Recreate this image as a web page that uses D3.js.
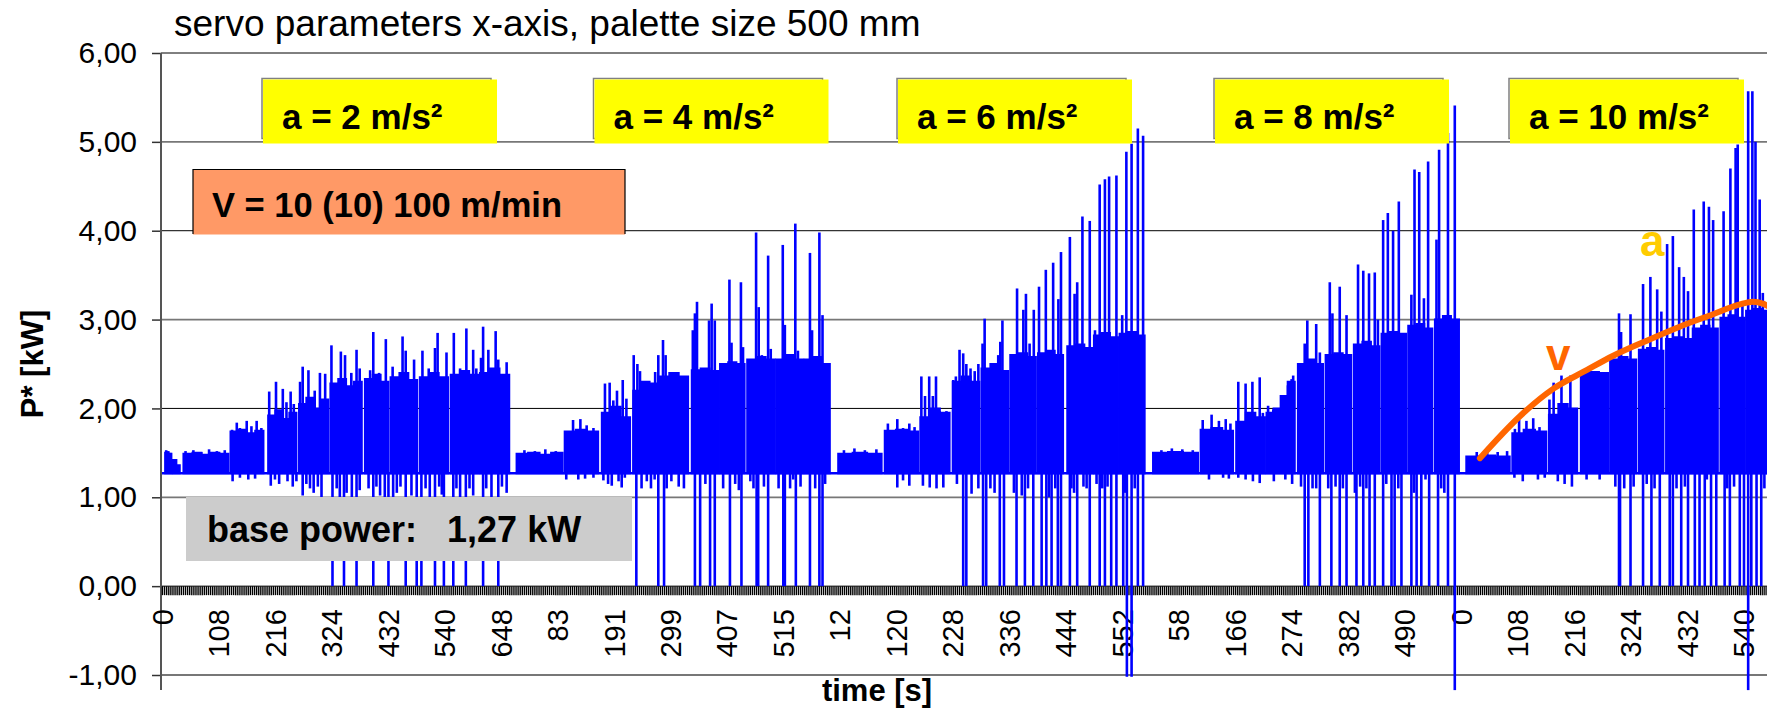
<!DOCTYPE html>
<html><head><meta charset="utf-8">
<script src="https://cdn.jsdelivr.net/npm/d3@7"></script>
<style>
body{margin:0;background:#fff}
svg{display:block;font-family:"Liberation Sans",Arial,Helvetica,sans-serif}
</style>
</head><body>
<svg id="c" width="1767" height="709"></svg>
<script>
// ---------------- DATA ----------------
const titleText = "servo parameters x-axis, palette size 500 mm";
const yTicks = [-1, 0, 1, 2, 3, 4, 5, 6];
const yTickLabels = ["-1,00", "0,00", "1,00", "2,00", "3,00", "4,00", "5,00", "6,00"];
const xTickLabels = ["0","108","216","324","432","540","648","83","191","299","407","515","12","120","228","336","444","552","58","166","274","382","490","0","108","216","324","432","540"];
const labelStep = 108;              // samples between time labels
const totalSamples = 3069;          // visible samples
const basePower = 1.27;
const segOffset = [0, 673, 1284, 1886, 2484];  // sample index where each a-run starts
const accelLabels = ["a = 2 m/s\u00B2", "a = 4 m/s\u00B2", "a = 6 m/s\u00B2", "a = 8 m/s\u00B2", "a = 10 m/s\u00B2"];

// stages per run: [start s, end s, plateau levels across the stage]
const stages1 = [[6,18,[1.5,1.49]],[21,34,[1.42,1.36]],[41,127,[1.49,1.5,1.48,1.5,1.49]],[131,194,[1.74,1.76,1.72,1.75]],[203,257,[1.92,1.98,1.88,1.95]],[262,318,[2.05,2.12,2.0,2.1]],[322,382,[2.28,2.33,2.25,2.3]],[388,433,[2.33,2.38,2.3]],[437,488,[2.35,2.4,2.32]],[493,547,[2.35,2.4,2.35]],[552,605,[2.38,2.42,2.38]],[608,664,[2.4,2.45,2.38]]];
const peaks1 = [[8,1.53],[12,1.52],[16,1.5],[45,1.52],[60,1.53],[75,1.51],[90,1.54],[105,1.52],[120,1.53],[134,1.76],[143,1.84],[149,1.78],[162,1.86],[171,1.8],[181,1.86],[190,1.78],[205,2.19],[218,2.3],[231,2.22],[238,2.07],[246,2.19],[252,2.05],[264,2.3],[269,2.47],[280,2.43],[292,2.2],[302,2.4],[312,2.39],[324,2.71],[342,2.64],[350,2.6],[362,2.4],[372,2.66],[378,2.45],[398,2.43],[404,2.86],[415,2.4],[428,2.78],[441,2.47],[460,2.81],[466,2.65],[482,2.55],[498,2.65],[510,2.45],[522,2.68],[527,2.85],[544,2.63],[558,2.85],[570,2.45],[582,2.9],[595,2.66],[601,2.45],[610,2.57],[614,2.92],[624,2.66],[638,2.87],[643,2.55],[659,2.52]];
const dips1 = [[135,1.18],[149,1.22],[165,1.2],[178,1.21],[208,1.13],[216,1.2],[224,1.15],[240,1.18],[250,1.12],[257,1.18],[269,1.02],[276,1.15],[283,1.1],[290,1.05],[298,1.12],[305,1.0],[326,0],[334,1.1],[340,1.0],[348,0],[353,1.05],[363,1.0],[372,0],[378,1.08],[395,1.1],[404,0],[410,1.12],[417,1.02],[426,1.0],[433,0],[442,1.0],[449,1.05],[456,1.12],[466,0],[477,1.02],[487,0],[496,0],[504,1.1],[512,1.0],[522,0],[530,1.12],[535,1.03],[539,0],[557,0],[563,1.1],[570,1.0],[581,0],[588,1.1],[595,1.02],[614,0],[620,1.1],[630,1.0],[643,0],[650,1.12],[659,1.05]];

const stages2 = [[5,93,[1.49,1.5,1.48,1.5]],[97,161,[1.74,1.76,1.74]],[168,222,[1.95,2.02,1.9]],[228,275,[2.2,2.3,2.28]],[279,333,[2.36,2.4,2.36]],[340,391,[2.43,2.45,2.42]],[394,441,[2.5,2.52,2.5]],[446,499,[2.55,2.58,2.55]],[502,553,[2.55,2.6,2.55]],[556,604,[2.55,2.58,2.5]]];
const peaks2 = [[20,1.53],[40,1.52],[60,1.54],[80,1.52],[113,1.87],[127,1.88],[139,1.81],[152,1.78],[174,2.28],[183,2.29],[190,2.09],[197,2.2],[208,2.32],[215,2.11],[229,2.6],[236,2.5],[241,2.42],[251,2.28],[260,2.24],[270,2.41],[276,2.6],[285,2.77],[290,2.6],[297,2.36],[308,2.36],[314,2.36],[327,2.3],[342,2.88],[346,3.07],[350,3.2],[373,2.99],[378,3.18],[384,2.99],[412,3.45],[416,2.74],[434,3.42],[438,2.69],[463,3.98],[468,3.14],[474,2.6],[486,3.72],[491,2.67],[514,3.84],[518,2.94],[538,4.08],[543,2.65],[566,3.75],[570,2.88],[584,3.98],[590,3.05],[600,2.3]];
const dips2 = [[100,1.2],[123,1.2],[136,1.21],[152,1.22],[171,1.19],[180,1.15],[187,1.13],[200,1.18],[206,1.11],[212,1.22],[234,0],[244,1.1],[254,1.18],[262,1.1],[269,1.2],[276,0],[287,0],[292,1.1],[301,1.18],[315,1.12],[325,1.1],[346,0],[356,0],[366,1.15],[375,0],[384,0],[400,1.1],[413,0],[423,1.15],[430,1.08],[435,0],[452,1.18],[458,1.1],[464,0],[467,0],[478,1.12],[486,0],[506,1.1],[515,0],[518,0],[528,1.1],[534,1.2],[539,0],[548,1.12],[566,0],[576,1.1],[584,0],[590,0],[595,1.15]];

const stages3 = [[9,92,[1.49,1.5,1.49]],[98,162,[1.75,1.76,1.74]],[166,222,[1.9,2.0,1.95]],[228,279,[2.3,2.36,2.3]],[283,334,[2.45,2.5,2.42]],[338,387,[2.6,2.62,2.58]],[391,439,[2.62,2.65,2.6]],[447,496,[2.7,2.72,2.68]],[498,544,[2.82,2.85,2.8]],[547,595,[2.84,2.86,2.82]]];
const peaks3 = [[20,1.53],[40,1.55],[60,1.53],[82,1.54],[104,1.83],[122,1.88],[133,1.78],[145,1.83],[155,1.79],[168,2.36],[175,2.14],[183,2.36],[190,2.14],[196,2.36],[203,1.97],[216,1.97],[229,2.32],[234,2.36],[241,2.66],[248,2.62],[254,2.5],[262,2.45],[270,2.42],[277,2.5],[285,2.73],[289,3.01],[315,2.6],[319,2.75],[323,2.99],[351,3.35],[363,3.11],[368,3.29],[375,2.73],[383,3.11],[393,3.37],[406,3.56],[420,3.64],[430,3.23],[435,3.76],[452,3.93],[461,3.29],[466,3.42],[476,4.16],[490,4.11],[500,2.88],[509,4.52],[519,4.58],[527,4.61],[541,4.62],[552,3.05],[560,4.89],[570,4.98],[582,5.15],[592,5.07]];
const dips3 = [[122,1.11],[133,1.19],[145,1.13],[171,1.13],[184,1.11],[197,1.1],[210,1.11],[236,1.15],[248,0],[254,0],[264,1.04],[277,1.1],[286,0],[292,0],[300,1.1],[308,1.05],[318,0],[326,0],[345,1.05],[350,0],[360,1.02],[366,0],[372,1.1],[382,0],[398,0],[407,0],[412,1.0],[417,0],[424,1.1],[429,0],[435,0],[452,0],[455,1.1],[460,1.05],[466,0],[478,1.12],[484,1.1],[490,0],[503,1.15],[509,0],[514,1.1],[519,0],[524,1.12],[531,0],[541,0],[554,0],[557,1.05],[561,-1.02],[570,-1.02],[576,1.1],[582,0],[592,0]];

const stages4 = [[9,95,[1.5,1.51,1.5]],[100,162,[1.76,1.78,1.75]],[168,223,[1.85,1.95,1.9]],[226,280,[1.95,2.0,2.14,2.3]],[286,334,[2.5,2.55,2.5]],[339,388,[2.6,2.62,2.6]],[393,442,[2.72,2.75,2.7]],[446,493,[2.84,2.86,2.84]],[497,543,[2.93,2.95,2.9]],[548,594,[3.0,3.04,3.0]]];
const peaks4 = [[25,1.53],[45,1.55],[65,1.54],[85,1.53],[104,1.87],[121,1.93],[135,1.86],[148,1.88],[157,1.83],[172,2.3],[186,2.28],[199,2.3],[213,2.35],[219,1.95],[229,2.03],[239,1.99],[255,2.03],[261,2.14],[267,2.26],[274,2.33],[277,2.37],[293,2.48],[299,2.73],[304,2.99],[321,2.95],[328,2.63],[347,3.42],[352,3.07],[366,3.37],[379,3.05],[401,3.62],[411,3.55],[422,3.52],[433,3.53],[439,3.0],[449,4.12],[458,4.2],[468,4.0],[479,4.33],[503,3.28],[509,4.69],[518,4.66],[527,3.24],[535,4.78],[551,3.9],[556,4.91],[573,5.1],[586,5.41]];
const dips4 = [[116,1.2],[143,1.22],[154,1.21],[172,1.22],[186,1.2],[200,1.18],[213,1.16],[240,1.18],[262,1.2],[275,1.15],[292,1.12],[299,0],[306,0],[314,1.1],[321,1.1],[328,0],[344,1.1],[350,0],[358,1.12],[366,0],[372,1.1],[379,0],[395,1.05],[398,0],[405,1.12],[411,0],[417,1.1],[423,0],[433,0],[449,0],[455,1.15],[465,0],[471,0],[478,1.1],[484,0],[503,0],[508,1.05],[513,0],[522,0],[530,1.2],[537,0],[554,0],[560,1.1],[566,1.05],[573,0],[586,-1.17]];

const stages5 = [[10,93,[1.46,1.47,1.46]],[98,163,[1.72,1.76,1.74]],[168,222,[1.93,2.05,2.0]],[229,281,[2.4,2.41,2.4]],[285,335,[2.55,2.58,2.55]],[340,387,[2.66,2.68,2.65]],[392,440,[2.78,2.8,2.78]],[443,491,[2.9,2.93,2.9]],[496,542,[3.02,3.05,3.02]],[545,590,[3.1,3.12,3.1]]];
const peaks5 = [[30,1.51],[50,1.53],[70,1.51],[88,1.52],[103,1.77],[111,1.87],[125,1.86],[138,1.89],[150,1.79],[169,2.1],[177,2.29],[192,2.37],[201,1.97],[209,2.37],[302,3.07],[306,2.86],[324,3.06],[348,3.4],[362,3.48],[375,3.34],[383,3.09],[394,3.85],[405,3.94],[417,3.59],[426,3.48],[434,3.32],[445,4.24],[464,4.33],[474,4.27],[482,4.12],[502,4.22],[515,4.7],[525,4.93],[529,4.97],[538,3.2],[549,5.57],[557,5.57],[563,5.0],[571,4.35],[577,3.3]];
const dips5 = [[102,1.22],[118,1.18],[147,1.2],[160,1.22],[185,1.18],[198,1.15],[212,1.12],[240,1.2],[265,1.2],[295,1.12],[302,0],[304,0],[312,1.1],[324,0],[330,1.12],[348,0],[355,1.15],[364,0],[370,1.1],[380,0],[399,0],[405,0],[412,1.1],[421,0],[428,1.12],[434,0],[447,0],[456,0],[466,0],[470,1.2],[478,0],[488,0],[504,0],[509,1.1],[514,0],[522,1.12],[533,0],[541,0],[549,-1.17],[555,0],[565,0],[574,0],[580,1.1]];

// speed curve "v" drawn over the a = 10 run: [time s in run, kW-scale value]
const vCurveT = [36, 112, 176, 240, 290, 354, 418, 482, 533, 558, 577, 590];
const vCurveV = [1.44, 1.91, 2.22, 2.43, 2.59, 2.76, 2.92, 3.06, 3.17, 3.2, 3.18, 3.14];

// ---------------- CHART ----------------
const svg = d3.select("#c");
const x = d3.scaleLinear().domain([0, totalSamples]).range([162, 1767]);
const y = d3.scaleLinear().domain([-1, 6]).range([675, 53]);
const BLUE = "#0000FF";

// title
svg.append("text").attr("x", 174).attr("y", 36).attr("font-size", 37).attr("fill", "#000").text(titleText);

// gridlines
svg.append("g").selectAll("line").data(yTicks).join("line")
  .attr("x1", 161).attr("x2", 1767)
  .attr("y1", d => y(d)).attr("y2", d => y(d))
  .attr("stroke", d => (d % 2 === 0 ? "#000" : "#777")).attr("stroke-width", d => (d % 2 === 0 ? 1 : 1.8));

// y axis
const yAxis = d3.axisLeft(y).tickValues(yTicks).tickSize(9).tickSizeOuter(0).tickPadding(15)
  .tickFormat((d, i) => yTickLabels[i]);
const gy = svg.append("g").attr("transform", "translate(161,0)").call(yAxis);
gy.select(".domain").remove();
gy.selectAll(".tick line").attr("stroke", "#333").attr("stroke-width", 1.5);
gy.selectAll(".tick text").attr("font-size", 30).attr("fill", "#000").attr("font-family", "Liberation Sans, Arial, sans-serif");
svg.append("line").attr("x1", 161).attr("x2", 161).attr("y1", 53).attr("y2", 690).attr("stroke", "#555").attr("stroke-width", 2);

// x axis hatch (minor ticks)
const hatch = d3.axisBottom(x).tickValues(d3.range(0, totalSamples, 4)).tickSize(9).tickSizeOuter(0).tickFormat("");
const gh = svg.append("g").attr("transform", `translate(0,${y(0)})`).call(hatch);
gh.select(".domain").remove();
gh.selectAll(".tick line").attr("stroke", "#000").attr("stroke-width", 1.4);

// x axis labels
const labelAxis = d3.axisBottom(x).tickValues(xTickLabels.map((d, i) => i * labelStep)).tickSize(0)
  .tickFormat((d, i) => xTickLabels[i]);
const gl = svg.append("g").attr("transform", `translate(0,${y(0)})`).call(labelAxis);
gl.select(".domain").remove();
gl.selectAll(".tick text").attr("transform", "rotate(-90)").attr("x", -23).attr("y", 0).attr("dy", "0.35em")
  .attr("text-anchor", "end").attr("font-size", 29).attr("fill", "#000").attr("font-family", "Liberation Sans, Arial, sans-serif");

// axis titles
svg.append("text").attr("x", 877).attr("y", 701).attr("text-anchor", "middle").attr("font-size", 31).attr("font-weight", "bold").text("time [s]");
svg.append("text").attr("transform", "translate(43,364) rotate(-90)").attr("text-anchor", "middle").attr("font-size", 31).attr("font-weight", "bold").text("P* [kW]");

// ---- power signal ----
const gd = svg.append("g");
const line = d3.line().x(d => x(d[0])).y(d => y(d[1]));
gd.append("path").datum([[0, basePower], [totalSamples, basePower]]).attr("d", line)
  .attr("fill", "none").attr("stroke", BLUE).attr("stroke-width", 2.5);

const runs = [
  [stages1, peaks1, dips1], [stages2, peaks2, dips2], [stages3, peaks3, dips3],
  [stages4, peaks4, dips4], [stages5, peaks5, dips5]
];
const band = d3.area().curve(d3.curveStepAfter).x(d => x(d[0])).y0(y(basePower)).y1(d => y(d[1]));
runs.forEach(([st, pk, dp], r) => {
  const off = segOffset[r];
  st.forEach(([t0, t1, tops]) => {
    const n = tops.length;
    const pts = tops.map((v, i) => [off + t0 + (t1 - t0) * i / n, v]);
    pts.push([off + t1, tops[n - 1]]);
    gd.append("path").datum(pts).attr("d", band).attr("fill", BLUE).attr("stroke", BLUE).attr("stroke-width", 2);
  });
  pk.forEach(([t, v]) => {
    gd.append("path").datum([[off + t, basePower], [off + t, v]]).attr("d", line)
      .attr("fill", "none").attr("stroke", BLUE).attr("stroke-width", 2.6);
  });
  dp.forEach(([t, v]) => {
    gd.append("path").datum([[off + t, basePower], [off + t, v]]).attr("d", line)
      .attr("fill", "none").attr("stroke", BLUE).attr("stroke-width", 2.6);
  });
});

// ---- annotations ----
// yellow acceleration boxes
const boxLeft = [262, 593.5, 897, 1214, 1509];
boxLeft.forEach((L, i) => {
  svg.append("rect").attr("x", L).attr("y", 78.5).attr("width", 229).attr("height", 60)
    .attr("fill", "none").attr("stroke", "#808080").attr("stroke-width", 1.5);
  svg.append("rect").attr("x", L + 1).attr("y", 79.5).attr("width", 234).attr("height", 64).attr("fill", "#FFFF00");
  svg.append("text").attr("x", L + 20).attr("y", 129).attr("font-size", 35).attr("font-weight", "bold")
    .attr("fill", "#000").text(accelLabels[i]);
});

// orange speed box
svg.append("rect").attr("x", 193).attr("y", 169.5).attr("width", 432).attr("height", 65).attr("fill", "#FF9966");
svg.append("path").attr("d", "M193,234 V169.5 H625 V234").attr("fill", "none").attr("stroke", "#000").attr("stroke-width", 1.2);
svg.append("text").attr("x", 212).attr("y", 217).attr("font-size", 34.5).attr("font-weight", "bold").text("V = 10 (10) 100 m/min");

// grey base-power box
svg.append("rect").attr("x", 186).attr("y", 497).attr("width", 446).attr("height", 64).attr("fill", "#CCCCCC");
svg.append("text").attr("x", 207).attr("y", 542).attr("font-size", 36).attr("font-weight", "bold")
  .style("white-space", "pre").text("base power:   1,27 kW");

// speed curve
const vPts = vCurveT.map((t, i) => [segOffset[4] + t, vCurveV[i]]);
svg.append("path").datum(vPts).attr("d", d3.line().curve(d3.curveMonotoneX).x(d => x(d[0])).y(d => y(d[1])))
  .attr("fill", "none").attr("stroke", "#FF6600").attr("stroke-width", 6).attr("stroke-linecap", "round");
svg.append("text").attr("x", 1546).attr("y", 370).attr("font-size", 44).attr("font-weight", "bold").attr("fill", "#FF6600").text("v");
svg.append("text").attr("x", 1640).attr("y", 256).attr("font-size", 44).attr("font-weight", "bold").attr("fill", "#FFCC00").text("a");
</script>
</body></html>
